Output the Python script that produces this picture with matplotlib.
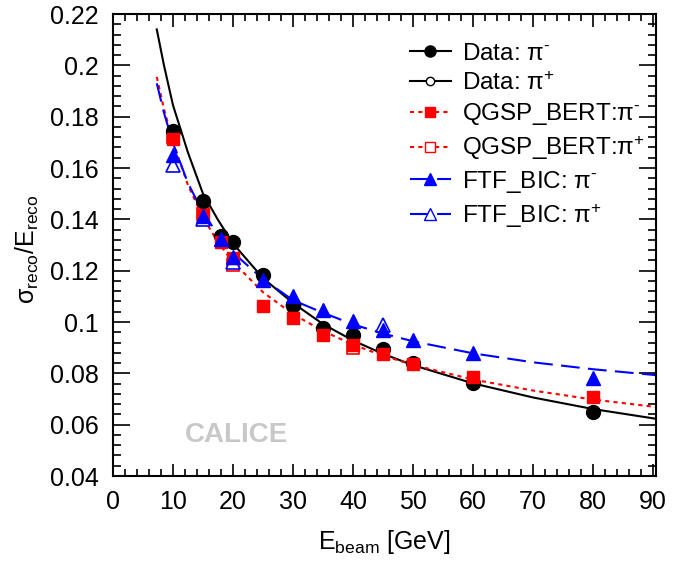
import matplotlib
matplotlib.use("Agg")
import matplotlib.pyplot as plt
from matplotlib.ticker import MultipleLocator

plt.rcParams["font.family"] = ["Liberation Sans", "DejaVu Sans"]
plt.rcParams["mathtext.fontset"] = "custom"
plt.rcParams["mathtext.rm"] = "Liberation Sans"
plt.rcParams["mathtext.it"] = "Liberation Sans:italic"
plt.rcParams["mathtext.bf"] = "Liberation Sans:bold"

# measured points
e_beam = [10, 15, 18, 20, 25, 30, 35, 40, 45, 50, 60, 80]
data_pim = [0.1744, 0.1470, 0.1335, 0.1312, 0.1183, 0.1065, 0.0975, 0.0950, 0.0895, 0.0840, 0.0763, 0.0648]
e_data_pip = [30]
data_pip = [0.1065]

qgsp_pim = [0.1712, 0.1418, 0.1312, 0.1250, 0.1062, 0.1015, 0.0951, 0.0912, 0.0875, 0.0836, 0.0787, 0.0706]
e_qgsp_pip = [10, 15, 20, 40]
qgsp_pip = [0.1722, 0.1422, 0.1222, 0.0900]

ftf_pim = [0.1650, 0.1412, 0.1322, 0.1252, 0.1163, 0.1100, 0.1045, 0.1005, 0.0970, 0.0930, 0.0880, 0.0780]
e_ftf_pip = [10, 15, 20, 45]
ftf_pip = [0.1612, 0.1400, 0.1235, 0.0990]

# fitted curves
e_fit = [7.3, 8.5, 10, 12.5, 15, 17.5, 20, 25, 30, 35, 40, 45, 50, 60, 70, 80, 90.5]
fit_data = [0.2140, 0.2000, 0.1845, 0.1660, 0.1500, 0.1398, 0.1306, 0.1171, 0.1074, 0.0992, 0.0928, 0.0876, 0.0832, 0.0761, 0.0706, 0.0661, 0.0623]
fit_qgsp = [0.1955, 0.1830, 0.1703, 0.1533, 0.1408, 0.1311, 0.1234, 0.1116, 0.1031, 0.0965, 0.0912, 0.0869, 0.0833, 0.0776, 0.0733, 0.0698, 0.0669]
fit_ftf = [0.1930, 0.1815, 0.1697, 0.1541, 0.1427, 0.1340, 0.1271, 0.1167, 0.1085, 0.1036, 0.0991, 0.0955, 0.0925, 0.0878, 0.0843, 0.0816, 0.0793]

fig = plt.figure(figsize=(6.88, 5.61), dpi=100)
ax = fig.add_axes([0.1642, 0.1515, 0.7893, 0.8235])

ms = 10
ax.plot(e_fit, fit_data, color="black", lw=1.5)
ax.plot(e_fit, fit_qgsp, color="red", lw=1.5, ls=(0, (2, 2)))
ax.plot(e_fit, fit_ftf, color="blue", lw=1.5, ls=(0, (9, 4)))

ax.plot(e_qgsp_pip, qgsp_pip, "s", color="red", mfc="white", ms=ms - 1, mew=1.2)
ax.plot(e_ftf_pip, ftf_pip, "^", color="blue", mfc="white", ms=ms, mew=1.2)
ax.plot(e_data_pip, data_pip, "o", color="black", mfc="white", ms=ms, mew=1.2)
ax.plot(e_beam, data_pim, "o", color="black", ms=ms)
ax.plot(e_beam, qgsp_pim, "s", color="red", ms=ms - 1)
ax.plot(e_beam, ftf_pim, "^", color="blue", ms=ms)

# legend handles
h1, = ax.plot([], [], "-o", color="black", ms=8, lw=1.5)
h2, = ax.plot([], [], "-o", color="black", mfc="white", ms=6, lw=1.5)
h3, = ax.plot([], [], "s", color="red", ms=7, ls=(0, (2, 2)), lw=1.5)
h4, = ax.plot([], [], "s", color="red", mfc="white", ms=7, ls=(0, (2, 2)), lw=1.5)
h5, = ax.plot([], [], "^", color="blue", ms=8, ls=(0, (9, 4)), lw=1.5)
h6, = ax.plot([], [], "^", color="blue", mfc="white", ms=8, ls=(0, (9, 4)), lw=1.5)
labels = ["Data: π$^{\\text{-}}$", "Data: π$^{+}$", "QGSP_BERT:π$^{\\text{-}}$",
          "QGSP_BERT:π$^{+}$", "FTF_BIC: π$^{\\text{-}}$", "FTF_BIC: π$^{+}$"]
ax.legend([h1, h2, h3, h4, h5, h6], labels, loc="upper right",
          bbox_to_anchor=(1.02, 0.985), frameon=False, fontsize=17.5,
          handlelength=1.7, handletextpad=0.45, labelspacing=0.28)

ax.text(12, 0.056, "CALICE", color="#c8c8c8", fontsize=20,
        fontweight="bold", va="center", ha="left")

ax.set_xlim(0, 90.5)
ax.set_ylim(0.04, 0.22)
ax.xaxis.set_major_locator(MultipleLocator(10))
ax.xaxis.set_minor_locator(MultipleLocator(2))
ax.yaxis.set_major_locator(MultipleLocator(0.02))
ax.yaxis.set_minor_locator(MultipleLocator(0.004))
ax.set_yticks([0.04, 0.06, 0.08, 0.1, 0.12, 0.14, 0.16, 0.18, 0.2, 0.22])
ax.set_yticklabels(["0.04", "0.06", "0.08", "0.1", "0.12", "0.14", "0.16", "0.18", "0.2", "0.22"])
ax.tick_params(which="both", direction="in", top=True, right=True, labelsize=18, width=1.2)
ax.tick_params(axis="y", which="major", length=12, pad=10)
ax.tick_params(axis="y", which="minor", length=6)
ax.tick_params(axis="x", which="major", length=9, pad=10)
ax.tick_params(axis="x", which="minor", length=5)
for s in ax.spines.values():
    s.set_linewidth(1.5)

ax.set_xlabel("E$_{\\mathrm{beam}}$ [GeV]", fontsize=18, labelpad=10)
ax.set_ylabel("σ$_{\\mathrm{reco}}$/E$_{\\mathrm{reco}}$", fontsize=18, labelpad=12)
ax.yaxis.set_label_coords(-0.133, 0.49)

fig.savefig("out.png", dpi=100)
